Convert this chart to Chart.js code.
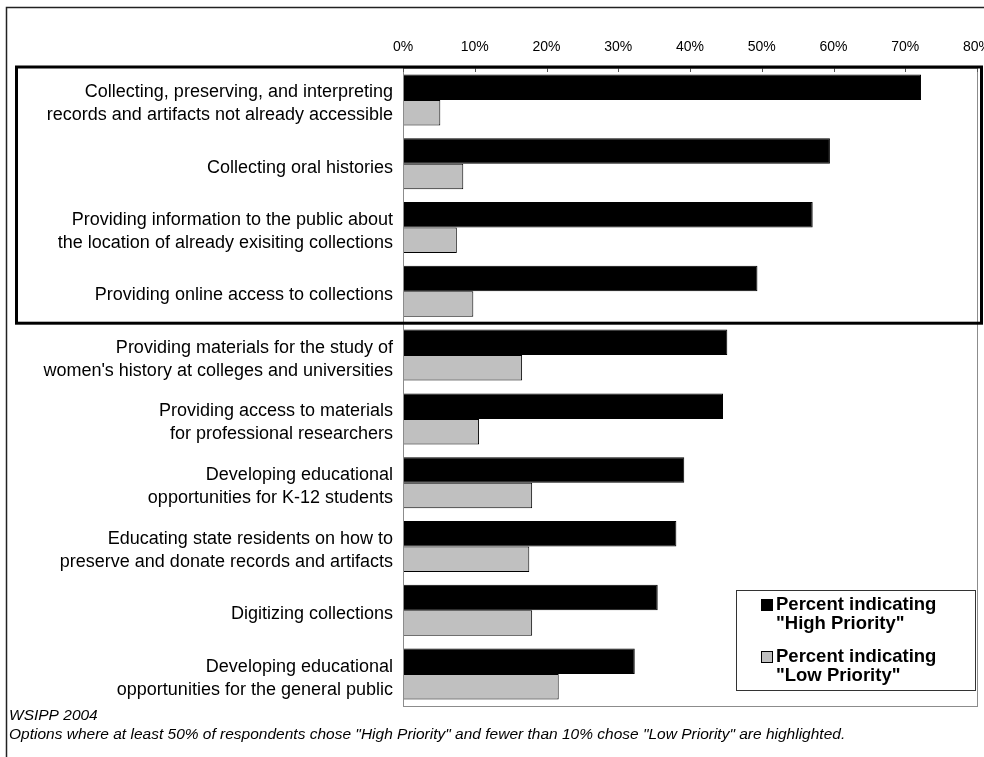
<!DOCTYPE html>
<html>
<head>
<meta charset="utf-8">
<script src="https://cdn.jsdelivr.net/npm/chart.js@4.4.1/dist/chart.umd.min.js"></script>
<style>
  html, body { margin: 0; padding: 0; background: #fff; }
  #wrap { width: 984px; height: 757px; position: relative; }
</style>
</head>
<body>
<div id="wrap"><canvas id="priorityChart" width="984" height="757"></canvas></div>
<script>
const categories = [
    ['Collecting, preserving, and interpreting', 'records and artifacts not already accessible'],
    'Collecting oral histories',
    ['Providing information to the public about', 'the location of already exisiting collections'],
    'Providing online access to collections',
    ['Providing materials for the study of', "women's history at colleges and universities"],
    ['Providing access to materials', 'for professional researchers'],
    ['Developing educational', 'opportunities for K-12 students'],
    ['Educating state residents on how to', 'preserve and donate records and artifacts'],
    'Digitizing collections',
    ['Developing educational', 'opportunities for the general public']
]
const highPriority = [72.2, 59.5, 57.1, 49.4, 45.2, 44.6, 39.2, 38.1, 35.5, 32.3]
const lowPriority = [5.2, 8.4, 7.5, 9.8, 16.6, 10.6, 18.0, 17.6, 18.0, 21.7]
const tickValues = [0, 10, 20, 30, 40, 50, 60, 70, 80]
const seriesNames = [['Percent indicating', '"High Priority"'], ['Percent indicating', '"Low Priority"']]
const highlighted = [0, 1, 2, 3]
const footnotes = [
    'WSIPP 2004',
    'Options where at least 50% of respondents chose "High Priority" and fewer than 10% chose "Low Priority" are highlighted.'
]

const FONT = '"Liberation Sans", Arial, sans-serif'

// frame, plot border, highlight box, legend and notes
const decorations = {
    id: 'decorations',
    afterDraw(chart) {
        const ctx = chart.ctx
        const area = chart.chartArea
        const x = chart.scales.x
        const y = chart.scales.y
        ctx.save()

        // outer frame
        ctx.strokeStyle = '#222'
        ctx.lineWidth = 1.5
        ctx.beginPath()
        ctx.moveTo(6.5, 757)
        ctx.lineTo(6.5, 7.5)
        ctx.lineTo(984, 7.5)
        ctx.stroke()

        // plot border
        ctx.strokeStyle = '#8c8c8c'
        ctx.lineWidth = 1
        ctx.strokeRect(area.left + 0.5, area.top + 0.5, area.width, area.height)

        // small ticks inside the top axis
        ctx.strokeStyle = '#555'
        tickValues.forEach(v => {
            const px = Math.round(x.getPixelForValue(v)) + 0.5
            ctx.beginPath()
            ctx.moveTo(px, area.top)
            ctx.lineTo(px, area.top + 4)
            ctx.stroke()
        })

        // highlight box
        const band = (y.getPixelForValue(1) - y.getPixelForValue(0))
        const top = y.getPixelForValue(highlighted[0]) - band / 2
        const bottom = y.getPixelForValue(highlighted[highlighted.length - 1]) + band / 2
        ctx.strokeStyle = '#000'
        ctx.lineWidth = 3
        ctx.strokeRect(16.5, top - 1, 965, bottom - top + 1)

        // legend
        const lx = 736, ly = 590, lw = 239, lh = 100
        ctx.fillStyle = '#fff'
        ctx.fillRect(lx, ly, lw, lh)
        ctx.strokeStyle = '#333'
        ctx.lineWidth = 1
        ctx.strokeRect(lx + 0.5, ly + 0.5, lw, lh)
        const colors = ['#000', '#c0c0c0']
        ctx.font = 'bold 18.5px ' + FONT
        ctx.textBaseline = 'middle'
        ctx.textAlign = 'left'
        seriesNames.forEach((lines, i) => {
            const sy = ly + 14 + i * 52
            ctx.fillStyle = colors[i]
            ctx.fillRect(lx + 25, sy - 5, 12, 12)
            ctx.strokeStyle = '#000'
            ctx.strokeRect(lx + 25.5, sy - 4.5, 11, 11)
            ctx.fillStyle = '#000'
            lines.forEach((t, j) => ctx.fillText(t, lx + 40, sy + 1 + j * 19))
        })

        // notes
        ctx.font = 'italic 15.5px ' + FONT
        ctx.fillStyle = '#000'
        ctx.fillText(footnotes[0], 9, 716)
        ctx.fillText(footnotes[1], 9, 735)

        ctx.restore()
    }
}

const ctx = document.getElementById('priorityChart').getContext('2d')
const priorityChart = new Chart(ctx, {
    type: 'bar',
    data: {
        labels: categories,
        datasets: [{
            label: 'Percent indicating "High Priority"',
            data: highPriority,
            backgroundColor: '#000',
            borderColor: '#000',
            borderWidth: 1,
            categoryPercentage: 0.8,
            barPercentage: 1
        }, {
            label: 'Percent indicating "Low Priority"',
            data: lowPriority,
            backgroundColor: '#c0c0c0',
            borderColor: '#000',
            borderWidth: 1,
            categoryPercentage: 0.8,
            barPercentage: 1
        }]
    },
    options: {
        indexAxis: 'y',
        responsive: false,
        animation: false,
        layout: { padding: { left: 0, right: 7, top: 0, bottom: 51 } },
        plugins: {
            legend: { display: false },
            tooltip: { enabled: false }
        },
        scales: {
            x: {
                position: 'top',
                min: 0,
                max: 80,
                afterFit: scale => {
                    scale.height = 68
                    scale.paddingLeft = 0
                    scale.paddingRight = 0
                },
                afterBuildTicks: scale => { scale.ticks = tickValues.map(v => ({ value: v })) },
                grid: { display: false, drawTicks: false },
                border: { display: true, color: '#8c8c8c', width: 1 },
                ticks: {
                    padding: 12,
                    color: '#000',
                    font: { family: FONT, size: 14 },
                    maxRotation: 0,
                    callback: v => v + '%'
                }
            },
            y: {
                afterFit: scale => { scale.width = 403 },
                grid: { display: false, drawTicks: false },
                border: { display: true, color: '#8c8c8c', width: 1 },
                ticks: {
                    padding: 10,
                    labelOffset: 4,
                    color: '#000',
                    font: { family: FONT, size: 18, lineHeight: 1.28 },
                    autoSkip: false
                }
            }
        }
    },
    plugins: [decorations]
})
</script>
</body>
</html>
